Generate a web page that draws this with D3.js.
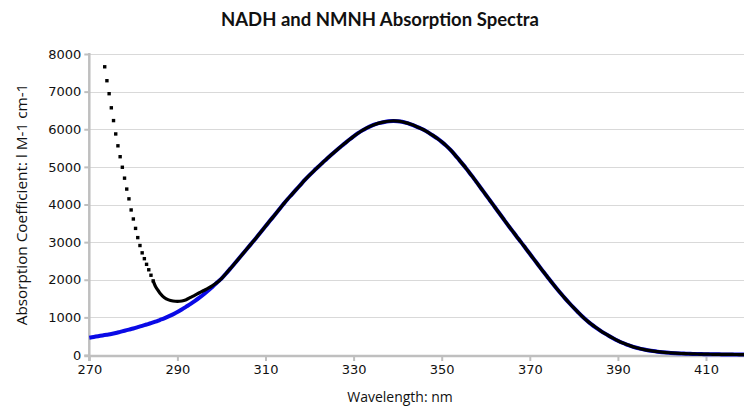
<!DOCTYPE html>
<html>
<head>
<meta charset="utf-8">
<script src="https://cdn.jsdelivr.net/npm/d3@7"></script>
<style>
  html, body { margin: 0; padding: 0; background: #fff; }
  svg { display: block; }
</style>
</head>
<body>
<svg id="chart" width="744" height="406"></svg>
<script>
// ---------- data ----------
const titleText = "NADH and NMNH Absorption Spectra";
const xTitle = "Wavelength: nm";
const yTitle = "Absorption Coefficient: l M-1 cm-1";
const xTicks = [270, 290, 310, 330, 350, 370, 390, 410];
const yTicks = [0, 1000, 2000, 3000, 4000, 5000, 6000, 7000, 8000];

// NADH (black) — short-wavelength part, sampled every 0.5 nm then 1 nm
const nadhHeadNm = [273.5, 274, 274.5, 275, 275.5, 276, 276.5, 277, 277.5, 278, 278.5, 279, 279.5,
  280, 280.5, 281, 281.5, 282, 282.5, 283, 283.5, 284, 284.5, 285, 285.5, 286, 287, 288, 289, 290,
  291, 292, 293, 294, 295, 296, 297, 298, 299];
const nadhHeadVal = [7660, 7290, 6945, 6570, 6230, 5875, 5560, 5270, 4990, 4700, 4410, 4150, 3855,
  3615, 3365, 3120, 2910, 2715, 2560, 2410, 2265, 2120, 1970, 1830, 1735, 1650, 1530, 1465, 1435, 1425,
  1435, 1470, 1530, 1590, 1655, 1715, 1775, 1845, 1925];

// NMNH (blue) — short-wavelength part
const nmnhHeadNm = [270, 271, 272, 273, 274, 275, 276, 277, 278, 279, 280, 281, 282, 283, 284, 285,
  286, 287, 288, 289, 290, 291, 292, 293, 294, 295, 296, 297, 298, 299];
const nmnhHeadVal = [460, 480, 500, 520, 540, 560, 585, 615, 645, 675, 705, 740, 775, 810, 845, 885,
  930, 975, 1025, 1080, 1140, 1210, 1285, 1360, 1440, 1525, 1615, 1715, 1815, 1925];

// Both spectra overlap from 300 nm on
const tailNm = [300, 301, 302, 303, 304, 305, 306, 307, 308, 309, 310, 311, 312, 313, 314, 315, 316,
  317, 318, 319, 320, 321, 322, 323, 324, 325, 326, 327, 328, 329, 330, 331, 332, 333, 334, 335, 336,
  337, 338, 339, 340, 341, 342, 343, 344, 345, 346, 347, 348, 349, 350, 351, 352, 353, 354, 355, 356,
  357, 358, 359, 360, 361, 362, 363, 364, 365, 366, 367, 368, 369, 370, 371, 372, 373, 374, 375, 376,
  377, 378, 379, 380, 381, 382, 383, 384, 385, 386, 387, 388, 389, 390, 391, 392, 393, 394, 395, 396,
  397, 398, 399, 400, 401, 402, 403, 404, 405, 406, 407, 408, 409, 410, 411, 412, 413, 414, 415, 416,
  417, 418, 419, 420, 421, 422];
const tailVal = [2030, 2160, 2295, 2430, 2570, 2710, 2850, 2990, 3130, 3275, 3420, 3565, 3710, 3855,
  4000, 4140, 4270, 4400, 4530, 4660, 4780, 4895, 5005, 5115, 5225, 5330, 5430, 5530, 5625, 5720,
  5810, 5895, 5970, 6035, 6090, 6135, 6170, 6195, 6212, 6220, 6215, 6200, 6170, 6130, 6085, 6035,
  5980, 5910, 5835, 5755, 5665, 5565, 5450, 5320, 5180, 5040, 4890, 4740, 4580, 4420, 4260, 4100,
  3940, 3780, 3620, 3460, 3305, 3150, 3000, 2845, 2690, 2535, 2380, 2225, 2075, 1925, 1780, 1640,
  1505, 1375, 1250, 1130, 1015, 910, 815, 730, 650, 575, 505, 440, 380, 325, 278, 236, 200, 170,
  144, 122, 104, 89, 76, 65, 56, 48, 42, 37, 33, 29, 26, 24, 22, 20, 18, 17, 16, 15, 14, 13, 12,
  12, 11, 10, 10];

// ---------- build series ----------
const nadh = nadhHeadNm.map((n, i) => ({ nm: n, v: nadhHeadVal[i] }))
  .concat(tailNm.map((n, i) => ({ nm: n, v: tailVal[i] })));
const nmnh = nmnhHeadNm.map((n, i) => ({ nm: n, v: nmnhHeadVal[i] }))
  .concat(tailNm.map((n, i) => ({ nm: n, v: tailVal[i] })));
const markerOnlyBelow = 284.5; // sparse part of the black series shows as separate markers

// ---------- layout ----------
const W = 744, H = 406;
const plotLeft = 89.3, plotTop = 54, plotBottom = 355;
const svg = d3.select("#chart");

const x = d3.scaleLinear().domain([270, 430]).range([plotLeft, plotLeft + 160 * 4.405]);
const y = d3.scaleLinear().domain([0, 8000]).range([plotBottom, plotTop]);

const axisColor = "#bfbfbf";
const gridColor = "#d9d9d9";
const labelFont = "'DejaVu Sans', sans-serif";

// gridlines
svg.append("g")
  .selectAll("line")
  .data(yTicks.filter(d => d > 0))
  .join("line")
  .attr("x1", plotLeft).attr("x2", W)
  .attr("y1", d => Math.round(y(d)) + 0.5).attr("y2", d => Math.round(y(d)) + 0.5)
  .attr("stroke", gridColor).attr("stroke-width", 1);

// y axis
const yAxis = d3.axisLeft(y).tickValues(yTicks).tickSize(5).tickPadding(3).tickFormat(d3.format("d"));
const gy = svg.append("g").attr("transform", `translate(${plotLeft},0)`).call(yAxis);
gy.select(".domain").remove();
gy.selectAll(".tick line").attr("stroke", axisColor).attr("stroke-width", 2);
gy.selectAll(".tick text").attr("font-family", labelFont).attr("font-size", 13).attr("fill", "#111");
svg.append("line").attr("x1", plotLeft).attr("x2", plotLeft).attr("y1", plotTop - 1).attr("y2", plotBottom + 6)
  .attr("stroke", axisColor).attr("stroke-width", 2.5);

// x axis
const xAxis = d3.axisBottom(x).tickValues(xTicks).tickSize(5).tickPadding(4).tickFormat(d3.format("d"));
const gx = svg.append("g").attr("transform", `translate(0,${plotBottom + 1})`).call(xAxis);
gx.select(".domain").remove();
gx.selectAll(".tick line").attr("stroke", axisColor).attr("stroke-width", 2);
gx.selectAll(".tick text").attr("font-family", labelFont).attr("font-size", 13).attr("fill", "#111");
svg.append("line").attr("x1", plotLeft - 5).attr("x2", W).attr("y1", plotBottom + 1).attr("y2", plotBottom + 1)
  .attr("stroke", axisColor).attr("stroke-width", 2.5);

// series
const line = d3.line().x(d => x(d.nm)).y(d => y(d.v)).curve(d3.curveCatmullRom);

svg.append("path").datum(nmnh)
  .attr("d", line).attr("fill", "none")
  .attr("stroke", "#0a0ae6").attr("stroke-width", 4).attr("stroke-linejoin", "round");

svg.append("path").datum(nadh.filter(d => d.nm >= markerOnlyBelow))
  .attr("d", line).attr("fill", "none")
  .attr("stroke", "#000").attr("stroke-width", 3.2).attr("stroke-linejoin", "round");

const ms = 3.4;
svg.append("g").selectAll("rect")
  .data(nadh.filter(d => d.nm < markerOnlyBelow + 0.1))
  .join("rect")
  .attr("x", d => x(d.nm) - ms / 2).attr("y", d => y(d.v) - ms / 2)
  .attr("width", ms).attr("height", ms).attr("fill", "#000");

// titles
svg.append("text").attr("x", 380).attr("y", 26).attr("text-anchor", "middle")
  .attr("font-family", "Lato, sans-serif").attr("font-weight", "bold").attr("font-size", 18.5)
  .attr("fill", "#111").text(titleText);

svg.append("text").attr("transform", `translate(27,${(plotTop + plotBottom) / 2}) rotate(-90)`)
  .attr("text-anchor", "middle")
  .attr("font-family", "'Open Sans', sans-serif").attr("font-size", 15.3)
  .attr("fill", "#111").text(yTitle);

svg.append("text").attr("x", 400).attr("y", 401.5).attr("text-anchor", "middle")
  .attr("font-family", "'Open Sans', sans-serif").attr("font-size", 14)
  .attr("fill", "#111").text(xTitle);
</script>
</body>
</html>
